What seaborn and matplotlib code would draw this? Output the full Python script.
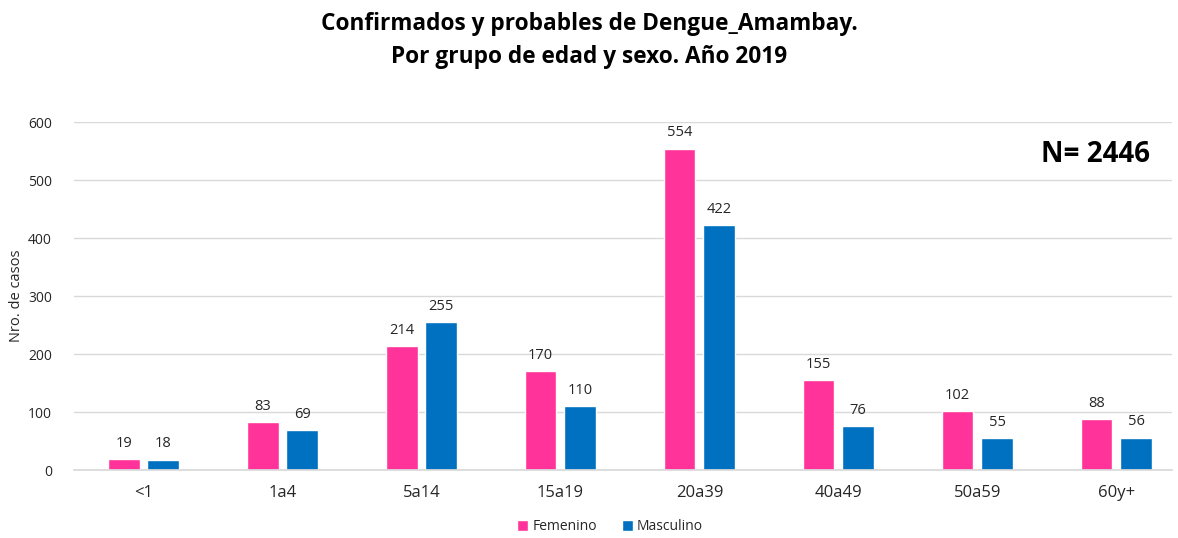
import pandas as pd
import seaborn as sns
import matplotlib.pyplot as plt

# Datos
grupos = ["<1", "1a4", "5a14", "15a19", "20a39", "40a49", "50a59", "60y+"]
femenino = [19, 83, 214, 170, 554, 155, 102, 88]
masculino = [18, 69, 255, 110, 422, 76, 55, 56]
total_n = 2446

df = pd.DataFrame({
    "grupo": grupos * 2,
    "sexo": ["Femenino"] * len(grupos) + ["Masculino"] * len(grupos),
    "casos": femenino + masculino,
})

sns.set_theme(style="white")
plt.rcParams["font.family"] = ["Open Sans", "DejaVu Sans"]

W, H = 1178, 538
fig = plt.figure(figsize=(W / 100, H / 100), dpi=100)
ax = fig.add_axes([74 / W, 1 - 470 / H, (1172 - 74) / W, (470 - 122) / H])

colores = {"Femenino": "#FF3399", "Masculino": "#0070C0"}
sns.barplot(data=df, x="grupo", y="casos", hue="sexo", palette=colores,
            width=0.57, gap=0.2, saturation=1, ax=ax, legend=True)

for cont in ax.containers:
    ax.bar_label(cont, padding=6, fontsize=10.5, color="#262626")

ax.set_ylim(0, 600)
ax.set_xlim(-0.5, 7.4)
ax.set_yticks(range(0, 601, 100))
ax.yaxis.grid(True, color="#D9D9D9", linewidth=1)
ax.set_axisbelow(True)
for s in ["top", "right", "left"]:
    ax.spines[s].set_visible(False)
ax.spines["bottom"].set_color("#D9D9D9")
ax.tick_params(axis="y", labelsize=10, colors="#262626", length=0, pad=16)
ax.tick_params(axis="x", labelsize=12, colors="#262626", length=0, pad=11)
ax.set_xlabel("")
ax.set_ylabel("Nro. de casos", fontsize=10.5, color="#262626", labelpad=3)

# Etiqueta del total
fig.text(1150 / W, 1 - 155 / H, f"N= {total_n}", ha="right", va="center",
         fontsize=20, fontweight="bold", color="black")

fig.suptitle("Confirmados y probables de Dengue_Amambay.\nPor grupo de edad y sexo. Año 2019",
             x=0.5, y=0.978, fontsize=16.3, fontweight="bold", color="black",
             linespacing=1.5)

leg = ax.legend(loc="center", bbox_to_anchor=(610 / W, 1 - 527 / H),
                bbox_transform=fig.transFigure, ncol=2, frameon=False,
                fontsize=10, handlelength=0.8, handleheight=0.8,
                handletextpad=0.3, columnspacing=1.8)

fig.savefig("out.png", dpi=100)
